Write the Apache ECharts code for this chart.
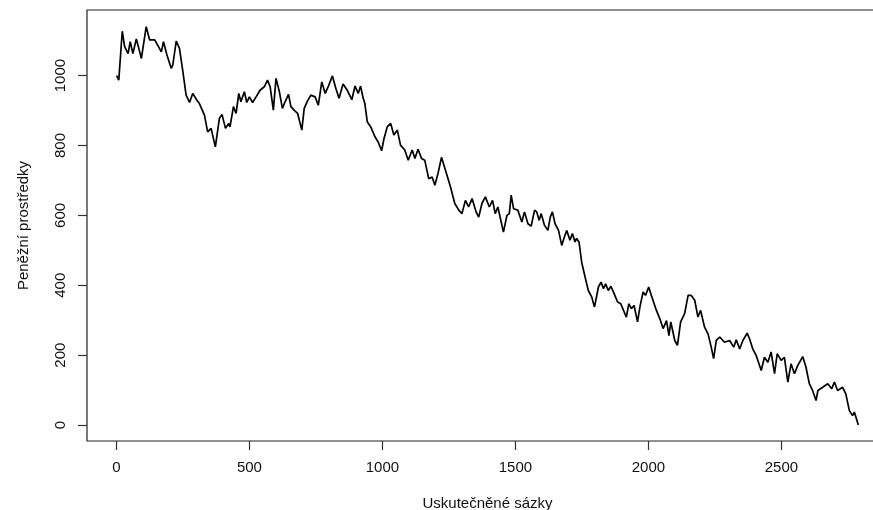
<!DOCTYPE html>
<html>
<head>
<meta charset="utf-8">
<title>Peněžní prostředky</title>
<script src="https://cdn.jsdelivr.net/npm/echarts@6/dist/echarts.min.js"></script>
<style>
  html, body { margin: 0; padding: 0; background: #fff; }
  #chart { width: 873px; height: 510px; }
</style>
</head>
<body>
<div id="chart"></div>
<script>
// poradi sazky a stav penez
var sazky = [
  1, 9, 22, 31, 44, 52, 62, 75, 94, 112, 125, 144, 169, 177, 190, 206, 212, 225, 237, 250,
  262, 275, 287, 302, 312, 331, 343, 356, 372, 387, 397, 410, 422, 427, 440, 450, 460, 468, 481, 490,
  500, 512, 525, 540, 556, 568, 578, 590, 600, 612, 624, 634, 647, 656, 668, 681, 697, 706, 718,
  731, 747, 759, 772, 785, 797, 812, 825, 837, 852, 868, 885, 897, 909, 918, 927, 934, 943, 956, 972,
  984, 997, 1006, 1018, 1031, 1043, 1056, 1068, 1084, 1097, 1112, 1122, 1134, 1147, 1159, 1174, 1187, 1197, 1209, 1222,
  1237, 1256, 1272, 1287, 1299, 1312, 1324, 1337, 1352, 1362, 1374, 1387, 1402, 1414, 1424, 1434,
  1455, 1468, 1477, 1484, 1493, 1509, 1524, 1534, 1547, 1559, 1572, 1580, 1589, 1597, 1609, 1622, 1631, 1639, 1649, 1662,
  1674, 1684, 1693, 1705, 1714, 1724, 1730, 1739, 1749, 1762, 1774, 1787, 1797, 1801, 1812, 1822, 1831, 1839, 1849, 1859,
  1871, 1884, 1896, 1909, 1917, 1926, 1936, 1946, 1959, 1968, 1980, 1989, 2001, 2013, 2030, 2043, 2055, 2068, 2077, 2084,
  2099, 2109, 2121, 2136, 2149,
  2161, 2174, 2186, 2196, 2211, 2224, 2236, 2245, 2255, 2268, 2286, 2305, 2321, 2330, 2343, 2355, 2371, 2380, 2392, 2405,
  2424, 2436, 2449, 2461, 2474, 2484, 2499, 2511, 2524, 2536, 2549, 2561, 2580, 2592, 2605, 2617, 2630, 2637, 2655, 2674,
  2689, 2699, 2711, 2730, 2742, 2755, 2767, 2774, 2789
];
var penize = [
  1000, 987, 1127, 1083, 1063, 1097, 1063, 1105, 1049, 1140, 1102, 1102, 1068, 1097, 1059, 1021, 1030, 1099, 1078, 1011,
  944, 923, 949, 930, 920, 887, 839, 849, 796, 877, 889, 849, 863, 853, 911, 892, 949, 925, 954, 923,
  939, 923, 939, 958, 968, 987, 968, 901, 992, 956, 906, 925, 946, 911, 901, 892, 844, 906, 927,
  944, 939, 915, 982, 949, 970, 999, 963, 935, 976, 958, 931, 970, 949, 970, 937, 920, 868, 853, 825,
  810, 785, 820, 853, 863, 830, 844, 801, 787, 758, 787, 763, 789, 763, 758, 705, 710, 686, 720, 766,
  729, 681, 634, 615, 605, 643, 624, 648, 610, 595, 634, 653, 624, 643, 605, 624,
  552, 600, 605, 658, 619, 615, 581, 610, 576, 569, 615, 610, 586, 605, 572, 557, 595, 610, 576, 557,
  514, 538, 557, 529, 548, 524, 534, 524, 466, 423, 385, 366, 338, 352, 395, 409, 390, 404, 385, 397,
  376, 352, 347, 323, 309, 347, 333, 342, 295, 338, 381, 371, 395, 366, 328, 304, 276, 299, 256, 295,
  242, 228, 295, 319, 371,
  371, 357, 309, 328, 280, 261, 223, 190, 242, 252, 237, 242, 223, 244, 218, 242, 263, 247, 218, 199,
  156, 194, 180, 209, 147, 204, 185, 194, 123, 175, 147, 170, 196, 166, 118, 99, 70, 99, 108, 118,
  104, 123, 99, 108, 89, 42, 27, 37, 0
];
var xTicks = [0, 500, 1000, 1500, 2000, 2500];
var yTicks = [0, 200, 400, 600, 800, 1000];

var data = [];
for (var i = 0; i < sazky.length; i++) {
  data.push([sazky[i], penize[i]]);
}

// rozsah jako v R: +4 % na kazde strane
var xr = 2789 - 1, yr = 1142;
var font = 'Liberation Sans, Arial, sans-serif';
var plain = function (v) { return String(v); };

var myChart = echarts.init(document.getElementById('chart'));
var option = {
  animation: false,
  grid: {
    left: 87, top: 10, width: 801, height: 431,
    outerBoundsMode: 'none',
    containLabel: false,
    show: true, borderColor: '#222', borderWidth: 1.2
  },
  xAxis: {
    type: 'value',
    min: 1 - 0.04 * xr,
    max: 2789 + 0.04 * xr,
    name: 'Uskutečněné sázky',
    nameLocation: 'middle',
    nameGap: 55,
    nameTextStyle: { fontFamily: font, fontSize: 15, color: '#111' },
    axisLine: { show: false, onZero: false },
    axisTick: { show: true, inside: false, length: 9, customValues: xTicks,
      lineStyle: { color: '#333', width: 1.2 } },
    axisLabel: { customValues: xTicks, formatter: plain, margin: 19, fontFamily: font, fontSize: 15, color: '#111' },
    splitLine: { show: false }
  },
  yAxis: {
    type: 'value',
    min: -0.04 * yr,
    max: yr * 1.04,
    name: 'Peněžní prostředky',
    nameLocation: 'middle',
    nameGap: 56,
    nameRotate: 90,
    nameTextStyle: { fontFamily: font, fontSize: 15, color: '#111' },
    axisLine: { show: false, onZero: false },
    axisTick: { show: true, inside: false, length: 9, customValues: yTicks,
      lineStyle: { color: '#333', width: 1.2 } },
    axisLabel: { customValues: yTicks, formatter: plain, rotate: 90, margin: 19, fontFamily: font, fontSize: 15, color: '#111' },
    splitLine: { show: false }
  },
  series: [{
    type: 'line',
    data: data,
    showSymbol: false,
    lineStyle: { color: '#000', width: 1.7 }
  }]
};
myChart.setOption(option);
</script>
</body>
</html>
